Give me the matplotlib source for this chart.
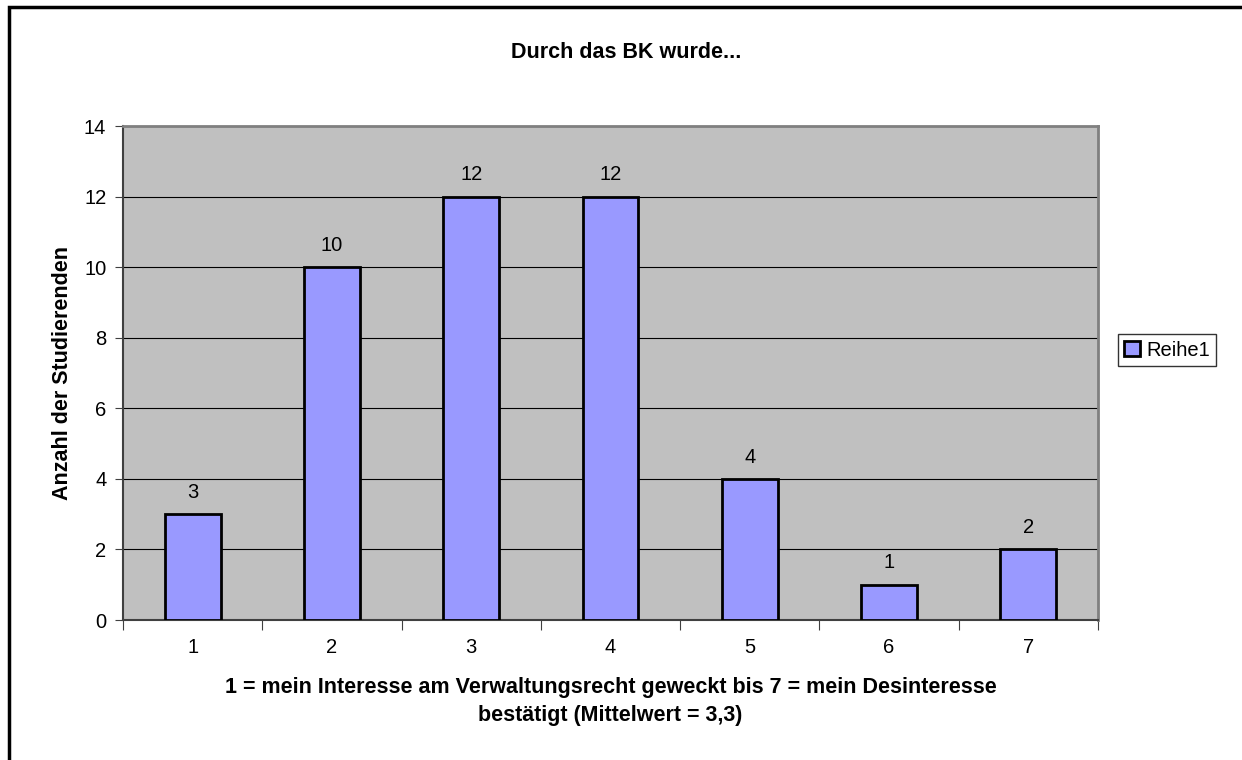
import matplotlib
matplotlib.use('Agg')
import matplotlib.pyplot as plt
from matplotlib.patches import Rectangle

# Daten
kategorien = ["1", "2", "3", "4", "5", "6", "7"]
anzahl = [3, 10, 12, 12, 4, 1, 2]
y_ticks = [0, 2, 4, 6, 8, 10, 12, 14]

plt.rcParams['font.family'] = ['Liberation Sans', 'DejaVu Sans']

fig = plt.figure(figsize=(12.42, 7.6), dpi=100)
W, H = 1242, 760
ax = fig.add_axes([123 / W, 1 - 620 / H, (1098 - 123) / W, (620 - 126) / H])

# Rahmen um die ganze Grafik
fig.patches.append(Rectangle((9 / W, -0.1), 1.2, 1 - 7 / H + 0.1, transform=fig.transFigure,
                             fill=False, edgecolor='black', linewidth=2.5))

pos = list(range(len(kategorien)))
ax.set_facecolor('#C0C0C0')
ax.bar(pos, anzahl, width=0.4, color='#9999FF', edgecolor='black', linewidth=2, zorder=3,
       label='Reihe1')
for x, v in zip(pos, anzahl):
    ax.text(x, v + 0.35, str(v), ha='center', va='bottom', fontsize=14.5)

ax.set_xlim(-0.5, len(kategorien) - 0.5)
ax.set_ylim(0, 14)
ax.set_yticks(y_ticks)
ax.set_yticklabels([str(t) for t in y_ticks], fontsize=14.5)
ax.yaxis.grid(True, color='black', linewidth=0.8, zorder=1)
ax.set_axisbelow(True)

# x ticks zwischen den Kategorien
ax.set_xticks([p + 0.5 for p in pos[:-1]] + [-0.5, len(kategorien) - 0.5])
ax.set_xticklabels([])
ax.set_xticks(pos, minor=True)
ax.set_xticklabels(kategorien, minor=True, fontsize=14.5)
ax.tick_params(axis='x', which='minor', length=0, pad=13)
ax.tick_params(axis='x', which='major', length=7, color='#404040')
ax.tick_params(axis='y', length=6, color='#404040', pad=6)

for s in ['top', 'right']:
    ax.spines[s].set_color('#808080')
    ax.spines[s].set_linewidth(2)
for s in ['left', 'bottom']:
    ax.spines[s].set_color('#404040')
    ax.spines[s].set_linewidth(1.5)

fig.text(626 / W, 1 - 53 / H, "Durch das BK wurde...", fontsize=15.5, fontweight='bold',
         ha='center', va='center')
ax.set_ylabel("Anzahl der Studierenden", fontsize=15.5, fontweight='bold', labelpad=8)
ax.set_xlabel("1 = mein Interesse am Verwaltungsrecht geweckt bis 7 = mein Desinteresse\nbestätigt (Mittelwert = 3,3)",
              fontsize=15.5, fontweight='bold', labelpad=14, linespacing=1.45)

leg = ax.legend(loc='center left', bbox_to_anchor=(1.0 + 20 / (1098 - 123), 1 - (350 - 126) / (620 - 126)),
                borderaxespad=0, fontsize=14.5, frameon=True, fancybox=False, edgecolor='black',
                handlelength=0.8, handleheight=0.8, handletextpad=0.3, borderpad=0.3)
leg.get_frame().set_linewidth(1)

plt.savefig("out.png", dpi=100)
plt.close()
